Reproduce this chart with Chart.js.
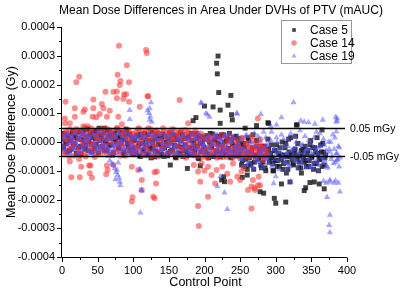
<!DOCTYPE html>
<html><head><meta charset="utf-8">
<script src="https://cdn.jsdelivr.net/npm/chart.js@4.4.1/dist/chart.umd.min.js"></script>
<style>html,body{margin:0;padding:0;background:#fff}#wrap{width:400px;height:293px}</style>
</head><body><div id="wrap"><canvas id="c" width="400" height="293"></canvas></div>
<script>
const chartTitle = 'Mean Dose Differences in Area Under DVHs of PTV (mAUC)';
const xTitle = 'Control Point';
const yTitle = 'Mean Dose Difference (Gy)';
const seriesNames = ['Case 5', 'Case 14', 'Case 19'];
const refLineValues = [0.00005, -0.00005];
const refLineLabels = ['0.05 mGy', '-0.05 mGy'];
const xRange = [0, 400];
const yRange = [-0.0004, 0.0004];
const bandStep = 2; // even band: control points 0,2,4,...; odd band: 1,3,5,...

// values in µGy
const case5Band = [
10,-20,25,-5,15,-30,5,30,-10,20,
-40,12,35,-15,8,40,-25,18,45,2,
28,-35,15,38,-8,22,48,-18,10,32,
-28,5,42,-12,25,12,-38,30,0,18,
-22,35,8,-45,20,45,-5,28,-30,15,
-20,10,-40,25,-5,-50,15,-30,30,-10,
-45,5,-25,35,-15,-52,10,-35,20,-8,
-42,28,-20,0,-48,15,-32,-30,25,-12,
-55,8,-38,32,-18,-50,12,-28,-40,20,
-45,5,-22,-35,30,-15,-58,-5,18,-30,
10,-40,15,-55,30,-20,-48,5,-35,20,
-10,-52,25,-30,0,-42,12,-25,-50,8,
-35,-15,20,-45,-5,
-45,-80,-10,-20,-60,-95,5,-80,-35,25,
-70,-50,-15,-55,-30,-90,-70,-15,-100,-40,
-25,-55,-10,-75,-30,-65,-85,-40,-20,-60,
-95,-45,-5,-70,10,-50,-45,-75,-30,20,
-60,-90,-50,-30,-25,-70,-65,-40,-85,-10,
-55,-20,-75,-35,15,-100,-60,-35,-5,-80,
-45];
const case5BandOdd = [
-15,30,0,-35,22,8,-25,38,-5,15,
35,-20,10,-42,28,2,-12,45,-30,20,
-8,32,-22,12,40,-38,5,25,-15,48,
0,-30,18,35,-10,-45,22,8,42,-20,
15,-5,30,-35,10,38,-18,25,0,-40,
5,-35,20,-15,-48,28,-5,-25,10,-42,
25,-18,-55,0,15,-32,30,-8,-45,12,
-22,-50,18,-12,-38,32,-2,-28,8,-52,
22,-15,-40,5,25,-30,-10,-48,15,-20,
30,-42,-5,-25,12,-55,20,-35,0,-18,
-25,22,-42,0,-15,28,-50,10,-30,-5,
18,-38,-12,25,-45,5,-22,30,-55,-8,
15,-32,-48,12,-20,
-30,-65,-5,-85,-40,15,-55,-75,-20,-95,
-45,5,-60,-35,-80,-15,-50,-90,-25,10,
-70,-40,-55,-100,-30,-10,-65,-85,-45,0,
-75,-20,-50,-95,-35,15,-60,-80,-25,-45,
-5,-70,-90,-40,-55,-15,-85,-30,-65,5,
-50,-95,-20,-75,-40,-60,-10,-85,-35,-55];
const case5Outliers = [
[152,-80],[176,-92],[184,74],[188,85],[194,-83],[200,125],[212,122],[217,274],[218,237],[219,299],
[220,172],[222,111],[224,-132],[227,-121],[228,-138],[222,65],[233,128],[237,162],[238,95],[239,77],
[253,-123],[257,48],[260,-115],[273,57],[278,-173],[283,-178],[289,67],[290,65],[298,-196],[300,-213],
[296,-100],[299,-63],[308,-146],[314,-209],[315,-108],[320,-139],[329,59],[330,60],[336,-108],[340,-169],
[342,-159],[348,-141],[354,-139],[361,-146],[365,42],[368,-163]];

const case14Band = [
-10,25,-35,40,5,-50,18,-22,35,-5,
45,-30,10,-45,28,-15,50,-40,0,22,
-28,38,-8,-52,15,42,-20,8,-38,30,
-12,48,-25,12,-45,35,-5,20,-35,45,
2,-48,25,-18,38,-30,10,-42,30,-8,
15,-40,35,-20,48,0,-45,25,-15,40,
-30,10,45,-50,22,-8,38,-35,30,5,
-25,48,-12,20,-42,35,-5,15,-38,42,
-18,28,-48,10,40,-28,25,-55,5,35,
-20,15,-45,30,-10,-50,22,-35,8,-25,
-40,10,-55,-20,20,-45,-5,-30,15,-50,
-15,-38,25,-52,-10,-28,5,-45,-35,18,
-55,-20,-40,0,-48,-25,12,-42,-30,-8,
-50,-18,-35,20,-45,-22,-5,-52,-30,10,
-40,-15,-55,-25,-35];
const case14BandOdd = [
20,-40,10,30,-25,45,-12,5,-48,35,
-20,15,40,-35,0,25,-50,12,38,-18,
48,-5,-30,22,-42,8,32,-15,45,-28,
10,-45,28,-2,40,-38,18,-22,50,-10,
-32,35,-8,22,-48,12,42,-25,0,30,
-35,20,-10,45,-28,8,35,-42,15,-20,
48,-5,25,-38,12,-15,40,-50,30,0,
-22,38,-45,18,-8,28,-32,45,5,-40,
22,-12,35,-25,10,-48,42,-18,28,-5,
-38,15,-28,40,-45,5,-15,30,-52,20,
-30,-50,5,-18,-42,15,-35,-8,-55,-25,
10,-45,-15,-38,20,-52,-28,0,-40,-20,
-48,8,-32,-12,-55,-25,15,-45,-35,-5,
-50,-22,-40,5,-30,-55,-15,-42,-8,-35,
-20,-50,-28,-45];
const case14Outliers = [
[5,140],[4,65],[11,65],[4,82],[18,117],[18,88],[24,227],[20,208],[30,105],[32,113],
[44,148],[44,117],[43,88],[48,86],[53,97],[56,132],[58,117],[61,175],[63,88],[67,109],
[72,175],[77,152],[77,176],[78,234],[80,335],[82,212],[81,198],[79,88],[84,62],[86,150],
[87,165],[90,166],[91,267],[94,208],[94,140],[109,123],[118,320],[119,310],[120,160],[121,158],
[165,146],[177,65],[275,82],[30,55],[36,55],
[11,-68],[13,-123],[24,-59],[25,-123],[27,-86],[38,-82],[40,-82],[39,-109],[42,-124],[62,-112],
[63,-82],[64,-97],[72,-80],[98,-86],[98,-207],[99,-192],[107,-97],[112,-132],[112,-167],[128,-190],
[130,-196],[130,-105],[132,-144],[133,-103],[191,-223],[192,-292],[191,-103],[194,-138],[196,-74],[205,-190],
[205,-86],[215,-144],[217,-97],[225,-85],[232,-110],[236,-138],[240,-75],[250,-132],[252,-103],[255,-90],
[261,-167],[266,-231],[266,-155],[268,-132],[270,-160],[271,-167],[275,-150],[276,-121],[278,-150],[283,-63],
[246,-120],[210,-115],[185,-80],[200,-100]];

const case19Band = [
5,-25,20,-10,30,-35,0,15,-20,25,
-5,-40,18,-15,32,-28,8,-12,22,-32,
12,-38,28,-8,-22,35,-18,2,-30,20,
-10,25,-35,10,-25,30,-15,-40,15,-5,
28,-20,5,-30,35,-10,-38,20,-2,-25,
-15,20,-40,5,-25,25,-48,-5,15,-30,
-10,28,-45,0,-20,22,-35,8,-50,12,
-28,-5,25,-42,-15,18,-32,-8,30,-45,
-20,10,-38,-2,20,-48,-12,15,-30,5,
-40,25,-18,-50,8,-25,28,-35,-5,-15,
-30,10,-45,20,-20,-5,-50,15,-35,25,
-10,-40,5,-28,18,-48,-15,28,-32,0,
-42,12,-22,-50,-8,
-40,10,-60,-25,20,-75,-35,-5,-85,-45,
30,-55,-20,-70,5,-40,-90,-30,15,-60,
-10,-50,35,-80,-25,-45,0,-65,-35,25,
-55,-15,-75,-40,10,-85,-30,-50,20,-20,
-70,-45,40,-60,-10,-35,-90,-25,5,-55,
-40,-80,15,-30,-65,-20,30,-50,-75,-10,
-45,-85,0,-35,-60,25,-25,-70,-40,-15,
-55];
const case19BandOdd = [
-18,12,-30,25,-5,-38,18,0,-25,32,
-12,10,-35,22,-20,5,30,-28,-8,15,
-40,25,-15,2,-32,20,-22,35,-10,-35,
8,-18,28,-40,12,-5,-28,22,-12,32,
-35,0,18,-22,10,-30,25,-15,-38,15,
-28,8,-45,22,-12,-35,15,-22,-50,0,
25,-40,-8,18,-30,-48,10,-18,28,-38,
-5,-25,20,-50,5,-15,-42,30,-20,-8,
-35,15,-48,-2,22,-28,-12,-45,10,-32,
25,-5,-40,15,-22,-50,0,18,-30,-10,
-15,-45,20,-30,5,-50,-10,25,-38,-22,
10,-48,-5,-32,22,-18,-42,0,-28,15,
-50,-12,-35,20,-25,
-60,-20,-85,-45,25,-30,-70,0,-50,-90,
-15,-65,20,-40,-80,-25,35,-55,-10,-75,
-45,5,-85,-30,-60,15,-35,-95,-20,-50,
10,-70,-40,-15,-80,30,-55,-25,-65,0,
-90,-35,-10,-75,-50,20,-30,-60,-85,-5,
-45,-20,-70,35,-40,-80,-15,-55,10,-65,
-30,-90,-25,0,-50,-75,15,-40,-60,-20];
const case19Outliers = [
[95,79],[95,111],[123,117],[122,100],[124,88],[123,77],[125,138],[120,110],[126,70],[196,134],
[195,137],[202,100],[204,95],[207,87],[245,100],[246,98],[279,97],[293,55],[308,85],[325,138],
[335,74],[340,70],[346,68],[355,63],[366,77],[384,87],[386,82],[385,70],[386,74],[385,36],[301,60],
[67,-65],[70,-75],[72,-80],[74,-92],[76,-105],[77,-97],[78,-115],[80,-125],[81,-139],[82,-150],
[75,-130],[79,-72],[109,-95],[110,-97],[112,-169],[110,-246],[111,-167],[218,-155],[228,-176],[232,-234],
[222,-120],[297,-144],[300,-120],[321,-138],[315,-100],[367,-136],[371,-142],[376,-139],[382,-142],[372,-192],
[376,-254],[375,-289],[376,-315],[376,-132],[384,-135],[388,-142],[390,-173],[389,-86],[386,-63],[360,-100],[350,-90]];

const seriesColors = ['rgba(25,25,25,0.82)', 'rgba(255,45,45,0.55)', 'rgba(80,80,255,0.5)'];
const FONT = "'Liberation Sans', Arial, sans-serif";

function toPoints(even, odd, outliers) {
  const pts = [];
  even.forEach((v, i) => pts.push({x: i * bandStep, y: v / 1e6}));
  odd.forEach((v, i) => pts.push({x: 1 + i * bandStep, y: v / 1e6}));
  outliers.forEach(([x, v]) => pts.push({x: x, y: v / 1e6}));
  return pts;
}

const decor = {
  id: 'decor',
  afterDatasetsDraw(chart) {
    const {ctx, chartArea: a, scales: {y}} = chart;
    ctx.save();
    ctx.strokeStyle = '#000';
    ctx.lineWidth = 1.5;
    ctx.fillStyle = '#000';
    ctx.font = '10.5px ' + FONT;
    ctx.textBaseline = 'middle';
    ctx.textAlign = 'left';
    refLineValues.forEach((v, i) => {
      const py = Math.round(y.getPixelForValue(v)) + 0.5;
      ctx.beginPath(); ctx.moveTo(a.left, py); ctx.lineTo(a.right - 2, py); ctx.stroke();
      ctx.fillText(refLineLabels[i], a.right + 3, py + 1);
    });
    ctx.restore();
  },
  afterDraw(chart) {
    const {ctx, chartArea: a, scales: {x, y}} = chart;
    ctx.save();
    ctx.strokeStyle = '#000';
    ctx.lineWidth = 1;
    ctx.beginPath();
    ctx.moveTo(a.left - 0.5, a.top); ctx.lineTo(a.left - 0.5, a.bottom + 0.5);
    ctx.lineTo(a.right, a.bottom + 0.5);
    ctx.stroke();
    for (let k = 0; k <= 16; k++) {
      const v = yRange[0] + k * 0.00005;
      const py = Math.round(y.getPixelForValue(v)) + 0.5;
      const major = k % 2 === 0;
      ctx.beginPath(); ctx.moveTo(a.left - 0.5, py); ctx.lineTo(a.left - (major ? 5 : 3), py); ctx.stroke();
    }
    for (let v = xRange[0]; v <= xRange[1]; v += 25) {
      const px = Math.round(x.getPixelForValue(v)) + 0.5;
      const major = v % 50 === 0;
      ctx.beginPath(); ctx.moveTo(px, a.bottom + 0.5); ctx.lineTo(px, a.bottom + (major ? 5 : 3)); ctx.stroke();
    }
    ctx.fillStyle = '#000';
    ctx.textAlign = 'center';
    ctx.textBaseline = 'middle';
    ctx.font = '12px ' + FONT;
    ctx.fillText(chartTitle, 221, 11);
    ctx.font = '12.5px ' + FONT;
    ctx.fillText(xTitle, (a.left + a.right) / 2 + 1, 283);
    ctx.save();
    ctx.translate(12, (a.top + a.bottom) / 2);
    ctx.rotate(-Math.PI / 2);
    ctx.fillText(yTitle, 0, 0);
    ctx.restore();
    const lx = 281.5, ly = 20.5, lw = 70, lh = 43;
    ctx.fillStyle = '#fff';
    ctx.fillRect(lx, ly, lw, lh);
    ctx.strokeStyle = '#999';
    ctx.strokeRect(lx, ly, lw, lh);
    ctx.font = '12px ' + FONT;
    ctx.textAlign = 'left';
    const styles = ['rect', 'circle', 'triangle'];
    seriesNames.forEach((n, i) => {
      const cy = 30 + i * 13;
      ctx.fillStyle = seriesColors[i];
      Chart.helpers.drawPoint(ctx, {pointStyle: styles[i], radius: i === 0 ? 2.6 : 2.8, borderWidth: 0, rotation: 0}, 294, cy);
      ctx.fillStyle = '#000';
      ctx.fillText(n, 310, cy + 1);
    });
    ctx.restore();
  }
};

const ds = [
  {label: seriesNames[0], data: toPoints(case5Band, case5BandOdd, case5Outliers), pointStyle: 'rect', pointRadius: 3.5, order: 3},
  {label: seriesNames[1], data: toPoints(case14Band, case14BandOdd, case14Outliers), pointStyle: 'circle', pointRadius: 3, order: 2},
  {label: seriesNames[2], data: toPoints(case19Band, case19BandOdd, case19Outliers), pointStyle: 'triangle', pointRadius: 3.6, order: 1}
].map((d, i) => Object.assign(d, {backgroundColor: seriesColors[i], borderWidth: 0, pointBorderWidth: 0, pointBackgroundColor: seriesColors[i], showLine: false}));

new Chart(document.getElementById('c'), {
  type: 'scatter',
  data: {datasets: ds},
  options: {
    responsive: false, animation: false, devicePixelRatio: 1,
    layout: {padding: {left: 0, right: 53, top: 27, bottom: 0}},
    plugins: {legend: {display: false}, title: {display: false}, tooltip: {enabled: false}},
    scales: {
      x: {
        type: 'linear', min: xRange[0], max: xRange[1],
        ticks: {stepSize: 50, color: '#000', font: {size: 11, family: FONT}, padding: 7, maxRotation: 0},
        grid: {display: false, drawTicks: false}, border: {display: false},
        afterFit: s => { s.height = 36; }
      },
      y: {
        type: 'linear', min: yRange[0], max: yRange[1],
        ticks: {stepSize: 0.0001, color: '#000', font: {size: 11, family: FONT}, padding: 7,
          callback: v => Math.abs(v) < 1e-12 ? '0.0000' : v.toFixed(4)},
        grid: {display: false, drawTicks: false}, border: {display: false},
        afterFit: s => { s.width = 62; }
      }
    }
  },
  plugins: [decor]
});
</script></body></html>
